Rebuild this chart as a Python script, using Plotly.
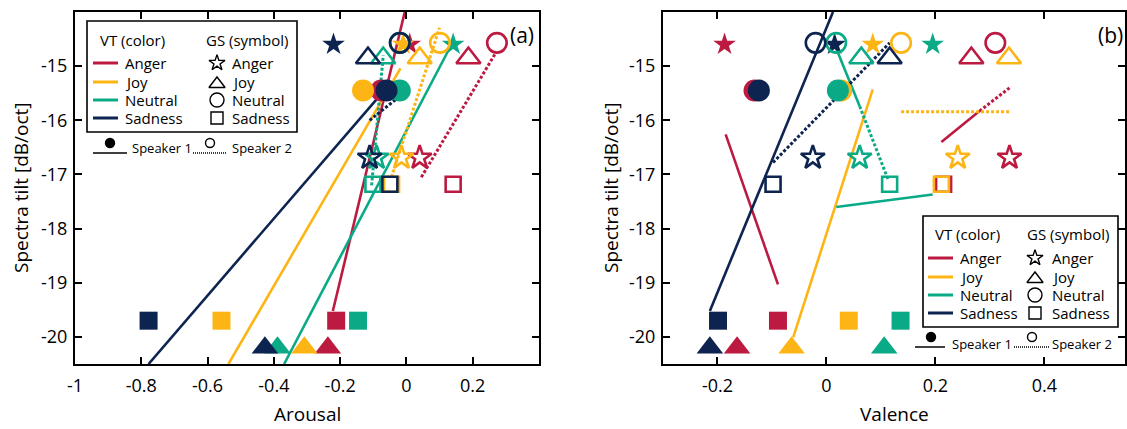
import plotly.graph_objects as go

W, H = 1127, 429

# ---------------- data ----------------
vt_names = ["Anger", "Joy", "Neutral", "Sadness"]
vt_colors = ["#BC1A40", "#FDB515", "#0AAA86", "#0D2350"]
gs_names = ["Anger", "Joy", "Neutral", "Sadness"]

# spectral tilt [dB/oct] of each GS (glottal source) stimulus
tilt_s1 = [-14.6, -20.2, -15.45, -19.7]
tilt_s2 = [-16.69, -14.85, -14.57, -17.18]

# perceived arousal, per VT, values in GS order
arousal_s1 = {
    "Anger":   [0.01, -0.237, -0.076, -0.212],
    "Joy":     [-0.01, -0.308, -0.131, -0.558],
    "Neutral": [0.141, -0.389, -0.02, -0.146],
    "Sadness": [-0.22, -0.427, -0.06, -0.778],
}
arousal_s2 = {
    "Anger":   [0.04, 0.187, 0.273, 0.141],
    "Joy":     [-0.015, 0.04, 0.101, -0.045],
    "Neutral": [-0.09, -0.07, -0.02, -0.101],
    "Sadness": [-0.111, -0.116, -0.02, -0.05],
}
# perceived valence, per VT, values in GS order
valence_s1 = {
    "Anger":   [-0.187, -0.164, -0.132, -0.089],
    "Joy":     [0.085, -0.064, 0.027, 0.041],
    "Neutral": [0.195, 0.106, 0.021, 0.136],
    "Sadness": [0.015, -0.214, -0.124, -0.199],
}
valence_s2 = {
    "Anger":   [0.336, 0.266, 0.31, 0.215],
    "Joy":     [0.241, 0.335, 0.137, 0.211],
    "Neutral": [0.061, 0.064, 0.018, 0.116],
    "Sadness": [-0.025, 0.116, -0.02, -0.098],
}

# fitted lines: (VT, style, x0, y0, x1, y1)
fits_arousal = [
    ("Anger", "solid", -0.222, -19.52, -0.005, -14.0),
    ("Joy", "solid", -0.537, -20.5, -0.018, -15.04),
    ("Neutral", "solid", -0.369, -20.5, 0.136, -14.6),
    ("Sadness", "solid", -0.778, -20.5, -0.07, -15.47),
    ("Anger", "dot", 0.045, -17.05, 0.267, -14.78),
    ("Joy", "dot", -0.045, -17.05, 0.10, -14.29),
    ("Neutral", "dot", -0.105, -17.2, -0.07, -14.8),
    ("Sadness", "dot", -0.111, -16.0, -0.025, -15.58),
]
fits_valence = [
    ("Anger", "solid", -0.185, -16.26, -0.089, -19.03),
    ("Joy", "solid", -0.061, -20.01, 0.085, -15.43),
    ("Neutral", "solid", 0.018, -17.6, 0.195, -17.37),
    ("Sadness", "solid", -0.214, -19.52, 0.012, -14.0),
    ("Anger", "solid", 0.211, -16.4, 0.281, -15.83),
    ("Anger", "dot", 0.281, -15.83, 0.336, -15.4),
    ("Joy", "dot", 0.137, -15.84, 0.336, -15.84),
    ("Neutral", "solid", 0.015, -14.6, 0.061, -15.74),
    ("Neutral", "dot", 0.061, -15.74, 0.113, -17.09),
    ("Sadness", "dot", -0.098, -16.78, 0.116, -14.57),
]

x_ticks_a = [-1, -0.8, -0.6, -0.4, -0.2, 0, 0.2]
x_tick_text_a = ["-1", "-0.8", "-0.6", "-0.4", "-0.2", "0", "0.2"]
x_ticks_b = [-0.2, 0, 0.2, 0.4]
x_tick_text_b = ["-0.2", "0", "0.2", "0.4"]
y_ticks = [-14, -15, -16, -17, -18, -19, -20]
y_tick_text = ["-14", "-15", "-16", "-17", "-18", "-19", "-20"]

# ---------------- styling ----------------
FONT = "Open Sans"
color_of = dict(zip(vt_names, vt_colors))
sym_filled = ["star", "triangle-up", "circle", "square"]
size_filled = [17, 23, 22, 18]
sym_open = ["star-open", "triangle-up-open", "circle-open", "square-open"]
size_open = [18, 21, 19.5, 15]
DOT = "3px,2px"


def px(x):
    return x / W


def py(y):
    return 1 - y / H


fig = go.Figure()


def add_panel(xa, ya, s1, s2, fits):
    for vt, style, x0, y0, x1, y1 in fits:
        fig.add_trace(go.Scatter(
            x=[x0, x1], y=[y0, y1], mode="lines", xaxis=xa, yaxis=ya,
            line=dict(color=color_of[vt], width=2.6 if style == "solid" else 3,
                      dash="solid" if style == "solid" else DOT),
            showlegend=False, hoverinfo="skip"))
    for vt in vt_names:
        fig.add_trace(go.Scatter(
            x=s1[vt], y=tilt_s1, mode="markers", xaxis=xa, yaxis=ya,
            marker=dict(symbol=sym_filled, size=size_filled, color=color_of[vt],
                        opacity=1, line=dict(width=0)),
            showlegend=False, name=vt))
    for vt in vt_names:
        fig.add_trace(go.Scatter(
            x=s2[vt], y=tilt_s2, mode="markers", xaxis=xa, yaxis=ya,
            marker=dict(symbol=sym_open, size=size_open, color=color_of[vt],
                        opacity=1, line=dict(width=2.6, color=color_of[vt])),
            showlegend=False, name=vt))


add_panel("x", "y", arousal_s1, arousal_s2, fits_arousal)
add_panel("x2", "y2", valence_s1, valence_s2, fits_valence)

# ---------------- legends (drawn as boxes) ----------------
shapes = []
annotations = []
legend_marks_x, legend_marks_y, legend_marks_sym, legend_marks_size = [], [], [], []


def text_ann(x, y, text, size, xanchor="left", angle=0):
    annotations.append(dict(x=px(x), y=py(y), xref="paper", yref="paper",
                            text=text, showarrow=False, xanchor=xanchor,
                            yanchor="middle", textangle=angle,
                            font=dict(size=size, family=FONT, color="black")))


def add_legend(box, head_y, rows_y, line_x0, line_x1, text_x, vt_head_x,
               sym_x, sym_text_x, gs_head_x, spk):
    x0, y0, x1, y1 = box
    shapes.append(dict(type="rect", xref="paper", yref="paper",
                       x0=px(x0), x1=px(x1), y0=py(y0), y1=py(y1),
                       line=dict(color="black", width=1.6), fillcolor="white",
                       layer="below"))
    text_ann(vt_head_x, head_y, "VT (color)", 15)
    text_ann(gs_head_x, head_y, "GS (symbol)", 15)
    for i, (vt, ry) in enumerate(zip(vt_names, rows_y)):
        shapes.append(dict(type="line", xref="paper", yref="paper",
                           x0=px(line_x0), x1=px(line_x1), y0=py(ry), y1=py(ry),
                           line=dict(color=color_of[vt], width=3), layer="below"))
        text_ann(text_x, ry, vt, 15)
        text_ann(sym_text_x, ry, gs_names[i], 15)
        legend_marks_x.append(sym_x)
        legend_marks_y.append(ry + (2 if i == 1 else 0))
        legend_marks_sym.append(sym_open[i])
        legend_marks_size.append([12, 14, 14, 12][i])
    # speaker key
    (l1a, l1b, dot1, t1, l2a, l2b, dot2, t2, ly, dy, ty) = spk
    shapes.append(dict(type="line", xref="paper", yref="paper",
                       x0=px(l1a), x1=px(l1b), y0=py(ly), y1=py(ly),
                       line=dict(color="black", width=1.5)))
    shapes.append(dict(type="line", xref="paper", yref="paper",
                       x0=px(l2a), x1=px(l2b), y0=py(ly), y1=py(ly),
                       line=dict(color="black", width=1.5, dash="1px,1px")))
    text_ann(t1, ty, "Speaker 1", 13)
    text_ann(t2, ty, "Speaker 2", 13)
    legend_marks_x.extend([dot1, dot2])
    legend_marks_y.extend([dy, dy])
    legend_marks_sym.extend(["circle", "circle-open"])
    legend_marks_size.extend([9, 9])


add_legend(box=(87, 21, 297, 132), head_y=40, rows_y=[63, 82, 100, 118],
           line_x0=93, line_x1=118, text_x=123, vt_head_x=98,
           sym_x=217, sym_text_x=230, gs_head_x=204,
           spk=(93, 127, 110, 130, 193, 227, 210, 230, 153, 143, 148))
add_legend(box=(923, 216, 1118, 327), head_y=234, rows_y=[258, 277, 295, 313],
           line_x0=928, line_x1=953, text_x=958, vt_head_x=933,
           sym_x=1035, sym_text_x=1050, gs_head_x=1025,
           spk=(915, 945, 931, 950, 1014, 1049, 1032, 1050, 347, 337, 344))

fig.add_trace(go.Scatter(
    x=legend_marks_x, y=legend_marks_y, mode="markers", xaxis="x3", yaxis="y3",
    marker=dict(symbol=legend_marks_sym, size=legend_marks_size, color="black",
                opacity=1, line=dict(width=1.4, color="black")),
    showlegend=False, hoverinfo="skip"))

# panel labels
text_ann(522, 35, "(a)", 21, xanchor="center")
text_ann(1110, 35, "(b)", 21, xanchor="center")
# axis titles
for xx in (21, 611):
    text_ann(xx, 188, "Spectra tilt [dB/oct]", 19, xanchor="center", angle=-90)
text_ann(307, 414, "Arousal", 19, xanchor="center")
text_ann(894, 414, "Valence", 19, xanchor="center")

axis_common = dict(showgrid=False, zeroline=False, showline=True, linecolor="black",
                   linewidth=2, mirror="ticks", ticks="inside", ticklen=7,
                   tickwidth=1.6, tickcolor="black", automargin=False,
                   tickfont=dict(size=18, family=FONT, color="black"))

y_dom = [py(364), py(12)]
fig.update_layout(
    template="none",
    width=W, height=H, autosize=False,
    margin=dict(l=0, r=0, t=0, b=0, pad=0),
    paper_bgcolor="white", plot_bgcolor="rgba(0,0,0,0)",
    showlegend=False,
    xaxis=dict(domain=[px(75), px(539)], range=[-1, 0.4], anchor="y",
               tickvals=x_ticks_a, ticktext=x_tick_text_a, ticklabelstandoff=4,
               **axis_common),
    yaxis=dict(domain=y_dom, range=[-20.5, -14], anchor="x",
               tickvals=y_ticks, ticktext=y_tick_text, ticklabelstandoff=2,
               **axis_common),
    xaxis2=dict(domain=[px(663), px(1125)], range=[-0.3, 0.548], anchor="y2",
                tickvals=x_ticks_b, ticktext=x_tick_text_b, ticklabelstandoff=4,
                **axis_common),
    yaxis2=dict(domain=y_dom, range=[-20.5, -14], anchor="x2",
                tickvals=y_ticks, ticktext=y_tick_text, ticklabelstandoff=2,
                **axis_common),
    xaxis3=dict(domain=[0, 1], range=[0, W], anchor="y3", visible=False,
                fixedrange=True, automargin=False),
    yaxis3=dict(domain=[0, 1], range=[H, 0], anchor="x3", visible=False,
                fixedrange=True, automargin=False),
    shapes=shapes,
    annotations=annotations,
    font=dict(family=FONT, color="black"),
)

fig.write_html("out.html",
               config={"displayModeBar": False},
               post_script="document.body.style.margin='0px';"
                           "document.body.style.overflow='hidden';")
